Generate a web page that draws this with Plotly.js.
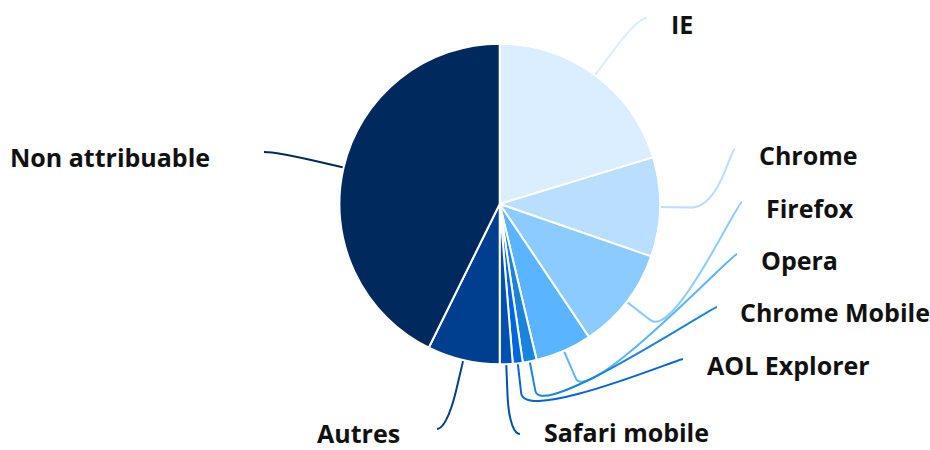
<!DOCTYPE html>
<html>
<head>
<meta charset="utf-8">
<script src="https://cdn.plot.ly/plotly-3.0.1.min.js"></script>
<style>html,body{margin:0;padding:0;background:#fff;}#chart{width:930px;height:450px;}</style>
</head>
<body>
<div id="chart"></div>
<script>
// ---- data ----
const categories = ["IE", "Chrome", "Firefox", "Opera", "Chrome Mobile", "AOL Explorer", "Safari mobile", "Autres", "Non attribuable"];
const shares = [20.3, 10.0, 10.3, 5.7, 1.4, 1.0, 1.3, 7.3, 42.7];

// ---- style / layout config ----
const colors = ["#dbeeff", "#b9deff", "#8ccbff", "#5ab4ff", "#1a84dc", "#0066e0", "#0050b4", "#003f8f", "#002a5e"];
const W = 930, H = 450;
const pieCenter = {x: 499.7, y: 204};
const pieRadius = 160.3;
const breakOffset = 30;
const fontSize = 25;
// connector end points near the labels (pixels) and label text placement
const labelPlacement = [
  {ex: 647, ey: 18,  tx: 670, ty: 24,  side: "left"},
  {ex: 735, ey: 149, tx: 758, ty: 155, side: "left"},
  {ex: 742, ey: 202, tx: 765, ty: 208, side: "left"},
  {ex: 737, ey: 254, tx: 760, ty: 260, side: "left"},
  {ex: 717, ey: 307, tx: 739, ty: 312, side: "left"},
  {ex: 683, ey: 359, tx: 706, ty: 365, side: "left"},
  {ex: 520, ey: 434, tx: 543, ty: 450, side: "left", bottom: true},
  {ex: 437, ey: 429, tx: 401, ty: 433, side: "right"},
  {ex: 264, ey: 152, tx: 211, ty: 157, side: "right"}
];

const px = x => x / W;
const py = y => 1 - y / H;

const total = shares.reduce((a, b) => a + b, 0);
let cum = 0;
const shapes = [];
const annotations = [];
shares.forEach((v, i) => {
  const theta = (cum + v / 2) / total * 2 * Math.PI;
  cum += v;
  const tX = pieCenter.x + pieRadius * Math.sin(theta);
  const tY = pieCenter.y - pieRadius * Math.cos(theta);
  const bX = pieCenter.x + (pieRadius + breakOffset) * Math.sin(theta);
  const bY = pieCenter.y - (pieRadius + breakOffset) * Math.cos(theta);
  const L = labelPlacement[i];
  const c1x = L.ex + (L.side === "left" ? -5 : 5), c1y = L.ey;
  const c2x = 2 * bX - tX, c2y = 2 * bY - tY;
  const path = `M ${px(L.ex)},${py(L.ey)} C ${px(c1x)},${py(c1y)} ${px(c2x)},${py(c2y)} ${px(bX)},${py(bY)} L ${px(tX)},${py(tY)}`;
  shapes.push({type: "path", xref: "paper", yref: "paper", path: path,
    line: {color: colors[i], width: 2}, layer: "below"});
  annotations.push({
    xref: "paper", yref: "paper", x: px(L.tx), y: py(L.ty),
    xanchor: L.side === "left" ? "left" : "right", yanchor: L.bottom ? "bottom" : "middle",
    text: categories[i], showarrow: false, borderpad: 0,
    font: {family: "Open Sans, sans-serif", size: fontSize, color: "#111111", weight: 700}
  });
});

const domY0 = (H - pieCenter.y - pieRadius) / H;
const domY1 = (H - pieCenter.y + pieRadius) / H;
const domX0 = (pieCenter.x - pieRadius - 20) / W;
const domX1 = (pieCenter.x + pieRadius + 20) / W;

const trace = {
  type: "pie",
  labels: categories,
  values: shares,
  sort: false,
  direction: "clockwise",
  rotation: 0,
  textinfo: "none",
  textposition: "none",
  hoverinfo: "label+percent",
  showlegend: false,
  marker: {colors: colors, line: {color: "#ffffff", width: 2}},
  domain: {x: [domX0, domX1], y: [domY0, domY1]}
};

const layout = {
  width: W, height: H,
  margin: {l: 0, r: 0, t: 0, b: 0, pad: 0},
  paper_bgcolor: "#ffffff",
  plot_bgcolor: "#ffffff",
  showlegend: false,
  shapes: shapes,
  annotations: annotations
};

Plotly.newPlot("chart", [trace], layout, {displayModeBar: false, staticPlot: true});
</script>
</body>
</html>
